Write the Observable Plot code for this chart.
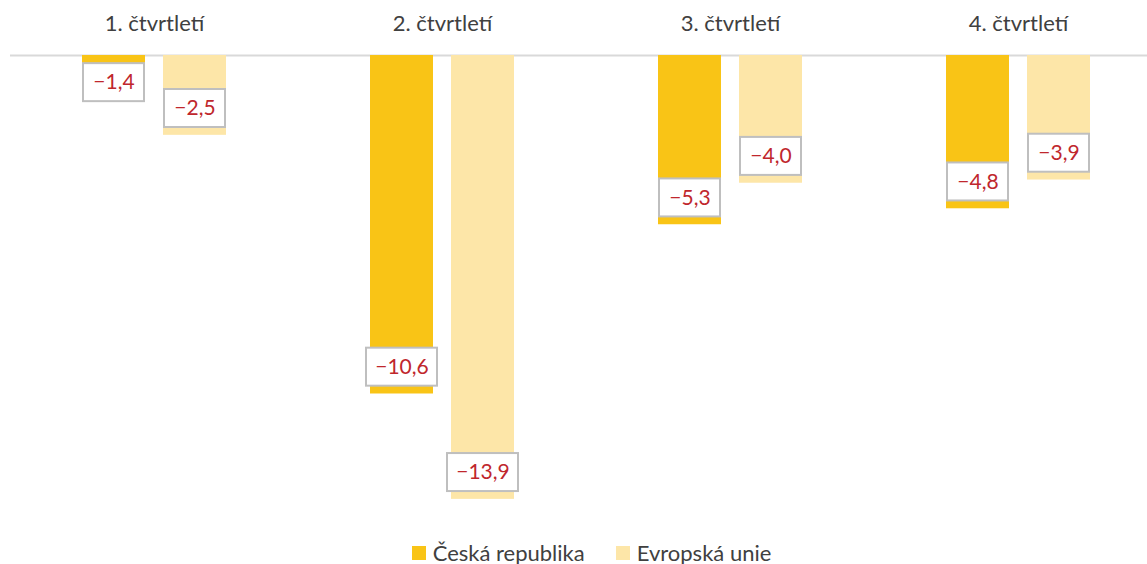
<!DOCTYPE html>
<html><head><meta charset="utf-8">
<script src="https://cdn.jsdelivr.net/npm/d3@7"></script>
<script src="https://cdn.jsdelivr.net/npm/@observablehq/plot@0.6"></script>
<style>
body{margin:0;background:#fff;font-family:Lato,"Noto Sans",sans-serif;}
#legend{display:flex;justify-content:center;gap:31px;font-size:22px;line-height:26px;color:#404040;margin-top:6px;padding-left:36px;}
#legend span.item{display:flex;align-items:center;}
#legend i{display:inline-block;width:14px;height:14px;margin-right:7px;}
</style></head>
<body><div id="chart"></div><div id="legend"></div>
<script>
const quarters = ["1. čtvrtletí", "2. čtvrtletí", "3. čtvrtletí", "4. čtvrtletí"];
const seriesNames = ["Česká republika", "Evropská unie"];
const czValues = [-1.4, -10.6, -5.3, -4.8];
const euValues = [-2.5, -13.9, -4.0, -3.9];
const colors = ["#F9C416", "#FDE6A8"];

const data = [];
quarters.forEach((q, i) => {
  data.push({quarter: q, series: seriesNames[0], value: czValues[i]});
  data.push({quarter: q, series: seriesNames[1], value: euValues[i]});
});
const fmt = v => v.toFixed(1).replace(".", ",").replace("-", "\u2212");
data.forEach(d => { d.labY = Math.min(d.value + 0.84, -0.85); d.label = fmt(d.value); });
const shortLabels = data.filter(d => d.label.length <= 4);
const longLabels = data.filter(d => d.label.length > 4);
const boxH = 0.595;

const chart = Plot.plot({
  width: 1147, height: 534,
  marginTop: 55, marginBottom: 0, marginLeft: 10, marginRight: 0,
  fx: {domain: quarters, range: [10, 1162], padding: 0, label: null},
  x: {domain: seriesNames, paddingInner: 0.2195, paddingOuter: 0.866, axis: null},
  y: {domain: [-15, 0], axis: null},
  color: {domain: seriesNames, range: colors},
  style: {fontFamily: "Lato, 'Noto Sans', sans-serif"},
  marks: [
    Plot.axisFx({anchor: "top", tickSize: 0, tickPadding: 25, fontSize: 22, color: "#404040", label: null}),
    Plot.ruleY([0], {stroke: "#d9d9d9", strokeWidth: 2}),
    Plot.barY(data, {fx: "quarter", x: "series", y: "value", fill: "series"}),
    Plot.rect(shortLabels, {fx: "quarter", x: "series", y1: d => d.labY - boxH, y2: d => d.labY + boxH, fill: "white", stroke: "#bfbfbf", strokeWidth: 2, insetLeft: 1, insetRight: 1}),
    Plot.rect(longLabels, {fx: "quarter", x: "series", y1: d => d.labY - boxH, y2: d => d.labY + boxH, fill: "white", stroke: "#bfbfbf", strokeWidth: 2, insetLeft: -4, insetRight: -4}),
    Plot.text(data, {fx: "quarter", x: "series", y: "labY", text: "label", fill: "#C0272D", fontSize: 21})
  ]
});
document.getElementById("chart").append(chart);

const legend = document.getElementById("legend");
seriesNames.forEach((s, i) => {
  const it = document.createElement("span");
  it.className = "item";
  it.innerHTML = `<i style="background:${colors[i]}"></i>${s}`;
  legend.append(it);
});
</script></body></html>
